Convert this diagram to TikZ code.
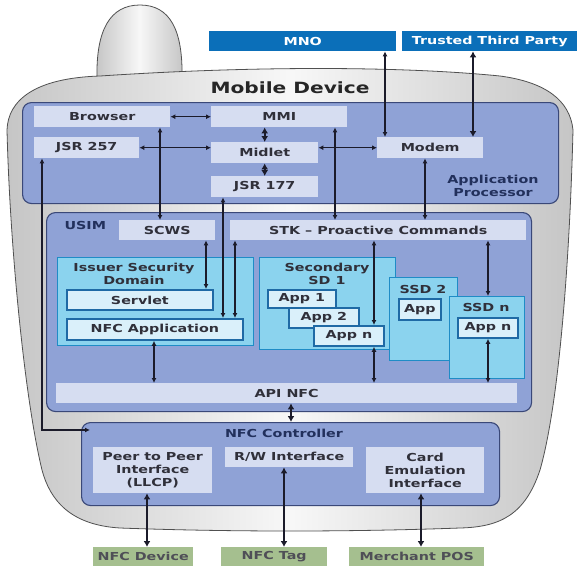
\documentclass[tikz,border=0pt]{standalone}
\usepackage{fontspec}
\setmainfont{DejaVu Sans}[FakeStretch=1.3]
\usetikzlibrary{positioning, arrows.meta, calc}
\definecolor{mdPanel}{HTML}{8FA2D6}
\definecolor{mdPanelLine}{HTML}{3A4878}
\definecolor{mdItem}{HTML}{D6DDF1}
\definecolor{mdSd}{HTML}{8BD3EE}
\definecolor{mdSdLine}{HTML}{1F8CC6}
\definecolor{mdApp}{HTML}{DAF0FA}
\definecolor{mdAppLine}{HTML}{1F6AA5}
\definecolor{mdExt}{HTML}{0B6FB9}
\definecolor{mdPeer}{HTML}{A5BF8F}
\definecolor{mdText}{HTML}{30303A}
\definecolor{mdTitle}{HTML}{22305C}
\definecolor{mdArrow}{HTML}{1B1B2A}
\definecolor{mdBody}{HTML}{505050}
\tikzset{
  md/.style={x=1pt, y=-1pt, font=\fontsize{11}{13}\selectfont\bfseries, text=mdText},
  wh/.style 2 args={anchor=north west, minimum width=#1pt, minimum height=#2pt},
  panel/.style={draw=mdPanelLine, line width=1.1pt, fill=mdPanel, rounded corners=9pt, inner sep=0pt},
  item/.style={fill=mdItem, inner sep=0pt, align=center},
  sd/.style={draw=mdSdLine, line width=1.2pt, fill=mdSd, inner sep=0pt},
  app/.style={draw=mdAppLine, line width=1.8pt, fill=mdApp, inner sep=0pt},
  ext/.style={fill=mdExt, text=white, inner sep=0pt},
  peer/.style={fill=mdPeer, text=mdText!85, inner sep=0pt},
  heading/.style={text=mdTitle, align=center},
  arr/.style={draw=mdArrow, line width=1.2pt, {Latex[length=5pt,width=5pt]}-{Latex[length=5pt,width=5pt]}},
  fat/.style={draw=mdArrow, line width=2pt, {Latex[length=6pt,width=7pt]}-{Latex[length=6pt,width=7pt]}},
  shell/.style={draw=mdBody, line width=0.8pt, left color=gray!45, right color=gray!45, middle color=gray!6},
}
\begin{document}
\begin{tikzpicture}[
  md,
]
\useasboundingbox (0,0) rectangle (582,566);

% handset outline
\path[shell] (97,78) .. controls (96,30) and (110,5) .. (140,5) .. controls (170,5) and (183,30) .. (182,78) -- cycle;
\path[shell] (7,130) .. controls (8,100) and (35,78) .. (100,76)
  .. controls (250,66) and (400,66) .. (500,76)
  .. controls (545,82) and (570,100) .. (573,130)
  .. controls (570,250) and (560,400) .. (540,470)
  .. controls (525,515) and (500,527) .. (460,528)
  .. controls (350,532) and (230,532) .. (120,528)
  .. controls (70,525) and (50,500) .. (42,470)
  .. controls (25,400) and (10,250) .. (7,130) -- cycle;
\node[font=\fontsize{15.5}{18}\selectfont\bfseries, text=black!85] (mdlabel) at (290,88) {Mobile Device};

\node[ext, wh={187}{20}] (mno) at (209,31) {MNO};
\node[ext, wh={175}{20}] (ttp) at (402,31) {Trusted Third Party};

% application processor
\node[panel, wh={536}{101}] (ap) at (22,102) {};
\node[heading] (aplabel) at (493,186) {Application\\Processor};
\node[item, wh={136}{21}] (browser) at (34,106) {Browser};
\node[item, wh={136}{21}] (mmi) at (211,106) {MMI};
\node[item, wh={105}{21}] (jsr257) at (34,137) {JSR 257};
\node[item, wh={107}{21}] (midlet) at (211,142) {Midlet};
\node[item, wh={106}{21}] (modem) at (377,137) {Modem};
\node[item, wh={107}{21}] (jsr177) at (211,176) {JSR 177};

% usim
\node[panel, wh={485}{199}] (usim) at (46,212) {};
\node[heading, anchor=west] (usimlabel) at (61,225) {USIM};
\node[item, wh={96}{20}] (scws) at (119,220) {SCWS};
\node[item, wh={296}{20}] (stk) at (230,220) {STK -- Proactive Commands};

\node[sd, wh={196}{88}] (isd) at (57,257) {};
\node[align=center] (isdlabel) at (134,274) {Issuer Security\\Domain};
\node[app, wh={146}{20}] (servlet) at (66,289) {Servlet};
\node[app, wh={176}{21}] (nfcapp) at (66,318) {NFC Application};

\node[sd, wh={136}{92}] (ssd1) at (259,257) {};
\node[align=center] (ssd1label) at (327,274) {Secondary\\SD 1};
\node[app, wh={68}{18}] (app1) at (267,289) {App 1};
\node[app, wh={70}{20}] (app2) at (288,307) {App 2};
\node[app, wh={70}{20}] (appn) at (313,325) {App n};

\node[sd, wh={68}{83}] (ssd2) at (389,277) {};
\node (ssd2label) at (423,289) {SSD 2};
\node[app, wh={42}{21}] (app) at (398,298) {App};

\node[sd, wh={75}{82}] (ssdn) at (449,296) {};
\node (ssdnlabel) at (486,307) {SSD n};
\node[app, wh={60}{20}] (appn2) at (457,317) {App n};

\node[item, wh={461}{20}] (apinfc) at (56,383) {API NFC};

% nfc controller
\node[panel, wh={418}{83}] (nfcc) at (81,422) {};
\node[heading] (nfcclabel) at (284,433) {NFC Controller};
\node[item, wh={119}{46}] (p2p) at (93,447) {Peer to Peer\\Interface\\(LLCP)};
\node[item, wh={128}{20}] (rw) at (225,447) {R/W Interface};
\node[item, wh={118}{46}] (card) at (366,447) {Card\\Emulation\\Interface};

\node[peer, wh={100}{19}] (nfcdev) at (93,547) {NFC Device};
\node[peer, wh={106}{19}] (nfctag) at (221,547) {NFC Tag};
\node[peer, wh={135}{19}] (pos) at (349,547) {Merchant POS};

% links
\draw[arr] (browser) -- (mmi);
\draw[fat] (mmi.south -| midlet.north) -- (midlet.north);
\draw[fat] (midlet) -- (jsr177);
\draw[arr] (jsr257) -- (jsr257 -| midlet.west);
\draw[arr] (modem.west -| midlet.east) -- (modem);
\draw[arr] (mno.south -| 385,0) -- (modem.north -| 385,0);
\draw[fat] (ttp.south -| 473,0) -- (modem.north -| 473,0);
\draw[arr] (jsr257.south -| 42,0) |- ([shift={(9,8)}]nfcc.north west);
\draw[arr] (browser.south -| 160,0) -- (scws.north -| 160,0);
\draw[arr] (jsr177.south -| 223,0) -- (nfcapp.north -| 223,0);
\draw[arr] (mmi.south -| 335,0) -- (stk.north -| 335,0);
\draw[arr] (modem.south -| 425,0) -- (stk.north -| 425,0);
\draw[arr] (stk.south -| 235,0) -- (nfcapp.north -| 235,0);
\draw[arr] (scws.south -| 206,0) -- (servlet.north -| 206,0);
\draw[arr] (nfcapp.south -| 154,0) -- (apinfc.north -| 154,0);
\draw[arr] (stk.south -| 374,0) -- (appn.north -| 374,0);
\draw[arr] (appn.south -| 374,0) -- (apinfc.north -| 374,0);
\draw[arr] (stk.south -| 488,0) -- (ssdn.north -| 488,0);
\draw[arr] (appn2.south -| 488,0) -- (apinfc.north -| 488,0);
\draw[fat] (apinfc.south -| 291,0) -- (nfcc.north -| 291,0);
\draw[fat] (p2p.south -| 147,0) -- (nfcdev.north -| 147,0);
\draw[fat] (rw.south -| 284,0) -- (nfctag.north -| 284,0);
\draw[fat] (card.south -| 421,0) -- (pos.north -| 421,0);
\end{tikzpicture}
\end{document}
